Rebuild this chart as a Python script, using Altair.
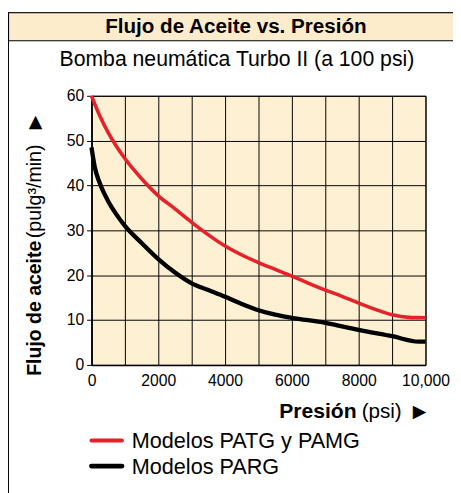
import altair as alt
import pandas as pd

# ---- data ----
series = ["Modelos PATG y PAMG", "Modelos PARG"]
series_colors = ["#E8202A", "#000000"]
pressure_red = [0, 250, 500, 1000, 1500, 2000, 2500, 3000, 3500, 4000, 4500, 5000,
                5500, 6000, 6500, 7000, 7500, 8000, 8500, 9000, 9500, 10000]
flow_red = [60.0, 55.5, 51.8, 46.0, 41.5, 37.7, 34.8, 31.8, 29.0, 26.5, 24.5, 22.8,
            21.3, 19.8, 18.2, 16.7, 15.3, 13.8, 12.4, 11.2, 10.6, 10.5]
pressure_black = [0, 100, 250, 500, 750, 1000, 1500, 2000, 2500, 3000, 3500, 4000,
                  4500, 5000, 5500, 6000, 7000, 8000, 9000, 9800, 10000]
flow_black = [48.5, 44.0, 40.5, 36.5, 33.5, 31.0, 27.2, 23.6, 20.6, 18.2, 16.7, 15.2,
              13.6, 12.2, 11.2, 10.5, 9.4, 7.8, 6.4, 5.2, 5.2]

x_grid = [0, 1000, 2000, 3000, 4000, 5000, 6000, 7000, 8000, 9000, 10000]
y_ticks = [0, 10, 20, 30, 40, 50, 60]

title_text = "Flujo de Aceite vs. Presión"
subtitle_text = "Bomba neumática Turbo II (a 100 psi)"
ytitle_bold = "Flujo de aceite"
ytitle_norm = "(pulg³/min)"
xtitle_bold = "Presión"
xtitle_norm = "(psi)"

df = pd.concat([
    pd.DataFrame({"presion": pressure_red, "flujo": flow_red, "modelo": series[0]}),
    pd.DataFrame({"presion": pressure_black, "flujo": flow_black, "modelo": series[1]}),
])

W, H = 340, 274
FONT = "Liberation Sans"
BEIGE = "#FEF0D2"
BAND = "#FDECCB"

one = pd.DataFrame({"k": [0]})

frame = alt.Chart(one).mark_rect(fill=None, stroke="black", strokeWidth=1).encode(
    x=alt.value(-84.5), x2=alt.value(400), y=alt.value(-84.5), y2=alt.value(420))
band = alt.Chart(one).mark_rect(fill=BAND, stroke="black", strokeWidth=1.2).encode(
    x=alt.value(-84.5), x2=alt.value(400), y=alt.value(-84.5), y2=alt.value(-56))


def txt(s, x, y, size, bold=False, angle=0, align="left", font=FONT, baseline="middle"):
    return alt.Chart(pd.DataFrame({"t": [s]})).mark_text(
        font=font, fontSize=size, fontWeight="bold" if bold else "normal",
        angle=angle, align=align, baseline=baseline, color="black"
    ).encode(x=alt.value(x), y=alt.value(y), text="t:N")


title = txt(title_text, 147, -70, 21, bold=True, align="center")
subtitle = txt(subtitle_text, 148, -36, 21.6, align="center")
yt1 = txt(ytitle_bold, -51, 285, 19.8, bold=True, angle=270, baseline="alphabetic")
yt2 = txt(ytitle_norm, -51, 145, 20, angle=270, baseline="alphabetic")
yt3 = txt("▲", -57, 27, 18, align="center", font="DejaVu Sans")
xt1 = txt(xtitle_bold, 191, 328, 21.5, bold=True, baseline="alphabetic")
xt2 = txt(xtitle_norm, 275, 328, 21, baseline="alphabetic")
xt3 = txt("▶", 334, 322, 18, align="center", font="DejaVu Sans")

# manual legend (line swatch + label) built from the series list
leg_layers = []
for i, (name, col) in enumerate(zip(series, series_colors)):
    yy = 351 + 26 * i
    leg_layers.append(
        alt.Chart(pd.DataFrame({"m": [name]})).mark_rule(
            color=col, strokeWidth=4 + i, strokeCap="round"
        ).encode(x=alt.value(0), x2=alt.value(31), y=alt.value(yy))
    )
    leg_layers.append(txt(name, 41, yy + 1, 22))

lines = alt.Chart(df).mark_line(interpolate="monotone", strokeCap="butt").encode(
    x=alt.X("presion:Q", scale=alt.Scale(domain=[0, 10000], nice=False),
            axis=alt.Axis(values=x_grid, title=None, ticks=False, grid=True,
                          labelExpr="datum.value % 2000 == 0 ? (datum.value == 10000 ? '10,000' : toString(datum.value)) : ''",
                          labelPadding=8, labelFlush=False)),
    y=alt.Y("flujo:Q", scale=alt.Scale(domain=[0, 60], nice=False),
            axis=alt.Axis(values=y_ticks, title=None, ticks=True, tickSize=5, grid=True,
                          labelPadding=3)),
    color=alt.Color("modelo:N", scale=alt.Scale(domain=series, range=series_colors), legend=None),
    strokeWidth=alt.StrokeWidth("modelo:N", scale=alt.Scale(domain=series, range=[3.6, 4.4]), legend=None),
)

chart = alt.layer(frame, band, title, subtitle, lines, yt1, yt2, yt3, xt1, xt2, xt3, *leg_layers).properties(
    width=W, height=H,
    autosize=alt.AutoSizeParams(type="none"),
    padding={"left": 85, "top": 85, "right": 28, "bottom": 126},
).configure_view(
    fill=BEIGE, stroke="black", strokeWidth=1
).configure_axis(
    labelFont=FONT, labelFontSize=16, labelColor="black",
    domainColor="black", domainWidth=1.5, gridColor="black", gridWidth=1, gridOpacity=1,
    tickColor="black", tickWidth=1, domain=True
)

chart.save("out.html", embed_options={"renderer": "svg", "actions": False})
